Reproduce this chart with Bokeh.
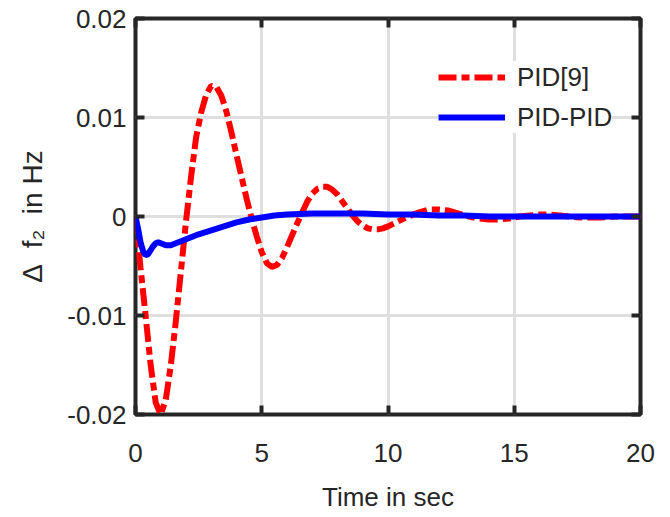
from bokeh.plotting import figure
from bokeh.models import LinearAxis, FixedTicker, Legend, LegendItem, Range1d
from bokeh.embed import file_html
from bokeh.resources import INLINE

# ---- data ----
t_pid9 = [0.0, 0.2, 0.4, 0.6, 0.8, 1.0, 1.2, 1.4, 1.6, 1.8, 2.0, 2.2, 2.4, 2.6, 2.8,
          3.0, 3.2, 3.4, 3.6, 3.8, 4.0, 4.2, 4.4, 4.6, 4.8, 5.0, 5.2, 5.4, 5.6, 5.8,
          6.0, 6.2, 6.4, 6.6, 6.8, 7.0, 7.2, 7.4, 7.6, 7.8, 8.0, 8.2, 8.4, 8.6, 8.8,
          9.0, 9.2, 9.4, 9.6, 9.8, 10.0, 10.4, 10.8, 11.2, 11.6, 12.0, 12.4, 12.8,
          13.2, 13.6, 14.0, 14.4, 14.8, 15.2, 15.6, 16.0, 16.4, 16.8, 17.2, 17.6,
          18.0, 18.4, 19.0, 20.0]
f2_pid9 = [0.0, -0.0052, -0.0100, -0.0150, -0.0188, -0.0200, -0.0185, -0.0150, -0.0105,
           -0.0055, -0.0005, 0.0040, 0.0080, 0.0105, 0.0123, 0.0132, 0.0131, 0.0122,
           0.0106, 0.0085, 0.0062, 0.0040, 0.0018, -0.0002, -0.0020, -0.0036, -0.0047,
           -0.0051, -0.0049, -0.0042, -0.0031, -0.0019, -0.0007, 0.0004, 0.0015, 0.0023,
           0.0028, 0.0030, 0.0030, 0.0027, 0.0022, 0.0015, 0.0008, 0.0001, -0.0005,
           -0.0009, -0.0012, -0.0013, -0.0013, -0.0012, -0.0010, -0.0005, 0.0000,
           0.0004, 0.0007, 0.0007, 0.0006, 0.0003, 0.0000, -0.0002, -0.0003, -0.0003,
           -0.0002, 0.0000, 0.0001, 0.0002, 0.0002, 0.0001, 0.0000, -0.0001, -0.0001,
           -0.0001, 0.0000, 0.0000]

t_pidpid = [0.0, 0.1, 0.2, 0.3, 0.4, 0.5, 0.6, 0.7, 0.8, 0.9, 1.0, 1.2, 1.4, 1.6, 2.0,
            2.5, 3.0, 3.5, 4.0, 4.5, 5.0, 5.5, 6.0, 7.0, 8.0, 9.0, 10.0, 11.0, 12.0,
            13.0, 14.0, 20.0]
f2_pidpid = [0.0, -0.0012, -0.0026, -0.0035, -0.0039, -0.0038, -0.0034, -0.0030, -0.0027,
             -0.0026, -0.0027, -0.0029, -0.0029, -0.0027, -0.0023, -0.0018, -0.0014,
             -0.0010, -0.0006, -0.0003, -0.0001, 0.0001, 0.0002, 0.0003, 0.0003, 0.0003,
             0.0002, 0.0002, 0.0001, 0.0001, 0.0000, 0.0000]

x_ticks = [0, 5, 10, 15, 20]
x_tick_labels = ["0", "5", "10", "15", "20"]
y_ticks = [-0.02, -0.01, 0.0, 0.01, 0.02]
y_tick_labels = ["-0.02", "-0.01", "0", "0.01", "0.02"]
series_names = ["PID[9]", "PID-PID"]

FONT = "Liberation Sans"
FS = "26px"
DARK = "#262626"

p = figure(frame_width=505, frame_height=396, output_backend="svg", toolbar_location=None,
           x_range=Range1d(0, 20), y_range=Range1d(-0.02, 0.02),
           min_border_left=135, min_border_top=18, min_border_right=22, min_border_bottom=100,
           background_fill_color="white", border_fill_color="white")

p.outline_line_color = DARK
p.outline_line_width = 4

for ax in (p.xaxis[0], p.yaxis[0]):
    ax.axis_line_color = None
    ax.major_tick_in = 9
    ax.major_tick_out = 0
    ax.major_tick_line_width = 4
    ax.major_tick_line_color = DARK
    ax.minor_tick_line_color = None
    ax.major_label_text_font = FONT
    ax.major_label_text_font_size = FS
    ax.major_label_text_color = DARK
    ax.axis_label_text_font = FONT
    ax.axis_label_text_font_size = FS
    ax.axis_label_text_font_style = "normal"
    ax.axis_label_text_color = DARK

p.xaxis[0].ticker = FixedTicker(ticks=x_ticks)
p.xaxis[0].major_label_overrides = dict(zip(x_ticks, x_tick_labels))
p.xaxis[0].major_label_standoff = 29
p.xaxis[0].axis_label = "Time in sec"
p.xaxis[0].axis_label_standoff = 17

p.yaxis[0].ticker = FixedTicker(ticks=y_ticks)
p.yaxis[0].major_label_overrides = dict(zip(y_ticks, y_tick_labels))
p.yaxis[0].major_label_standoff = 9
p.yaxis[0].axis_label = "Δ\u00a0\u00a0f₂\u00a0\u00a0in Hz"
p.yaxis[0].axis_label_text_font_size = "28px"
p.yaxis[0].axis_label_standoff = 16

for side, tk in (("above", x_ticks), ("right", y_ticks)):
    ax = LinearAxis(ticker=FixedTicker(ticks=tk))
    ax.major_label_overrides = {v: "" for v in tk}
    ax.axis_line_color = None
    ax.major_tick_in = 9
    ax.major_tick_out = 0
    ax.major_tick_line_width = 4
    ax.major_tick_line_color = DARK
    ax.minor_tick_line_color = None
    ax.major_label_standoff = 0
    p.add_layout(ax, side)

p.xgrid.ticker = FixedTicker(ticks=x_ticks)
p.ygrid.ticker = FixedTicker(ticks=y_ticks)
for g in (p.xgrid[0], p.ygrid[0]):
    g.grid_line_color = "#dfdfdf"
    g.grid_line_width = 3

r1 = p.line(t_pid9, f2_pid9, line_color="#ff0000", line_width=6, line_dash="18 5 8 5")
r2 = p.line(t_pidpid, f2_pidpid, line_color="#0000ff", line_width=6)

legend = Legend(items=[LegendItem(label=series_names[0], renderers=[r1]),
                       LegendItem(label=series_names[1], renderers=[r2])],
                location=(303, 281), orientation="vertical")
legend.border_line_color = None
legend.background_fill_color = "white"
legend.background_fill_alpha = 1.0
legend.padding = 10
legend.margin = 0
legend.spacing = 8
legend.glyph_width = 67
legend.glyph_height = 32
legend.label_height = 32
legend.label_standoff = 12
legend.label_text_font = FONT
legend.label_text_font_size = FS
legend.label_text_color = DARK
p.add_layout(legend, "center")

open("out.html", "w").write(file_html(p, INLINE))
